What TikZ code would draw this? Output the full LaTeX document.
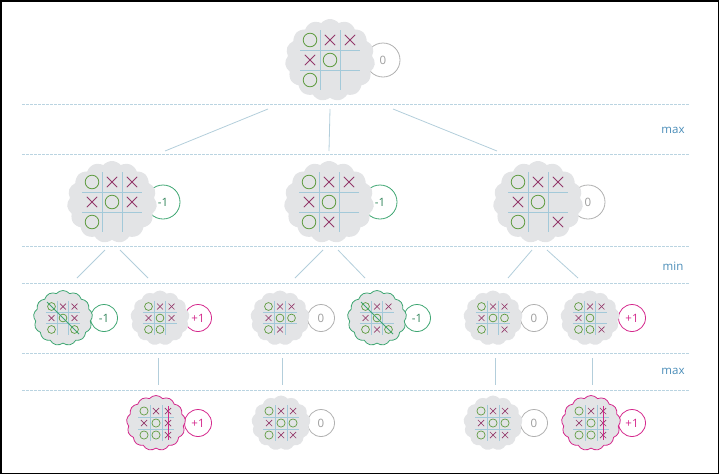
\documentclass[tikz,border=0pt]{standalone}
\usepackage{fontspec}
\setmainfont{Open Sans}
\usepackage{tikz}
\usetikzlibrary{shapes.symbols, backgrounds}
\definecolor{cloudgray}{HTML}{E3E4E6}
\definecolor{gridblue}{HTML}{A3C9D9}
\definecolor{ogreen}{HTML}{5E9B3F}
\definecolor{xplum}{HTML}{93386A}
\definecolor{wingreen}{HTML}{3EA672}
\definecolor{winpink}{HTML}{D4288C}
\definecolor{drawgray}{HTML}{B0B0B0}
\definecolor{dashblue}{HTML}{BAD4E1}
\definecolor{labelblue}{HTML}{4A8DB8}
\definecolor{linkblue}{HTML}{B3CEDB}

\tikzset{
  bigcloud/.style={cloud, cloud puffs=15, cloud puff arc=100, aspect=1,
    fill=cloudgray, minimum width=90pt, minimum height=82pt, inner sep=0pt},
  smallcloud/.style={cloud, cloud puffs=13, cloud puff arc=100, aspect=1,
    fill=cloudgray, minimum width=59pt, minimum height=55pt, inner sep=0pt},
  greencloud/.style={draw=wingreen, line width=0.8pt},
  pinkcloud/.style={draw=winpink, line width=0.8pt},
  gridline/.style={draw=gridblue, line width=0.9pt},
  opiece/.style={draw=ogreen, line width=0.8pt},
  xpiece/.style={draw=xplum, line width=0.8pt},
  smallboard/.style={gridline/.append style={line width=0.6pt},
    opiece/.append style={line width=0.7pt},
    xpiece/.append style={line width=0.7pt}},
  bigvalue/.style={circle, minimum size=34pt, inner sep=0pt, line width=0.8pt,
    font=\fontsize{11.5}{13}\selectfont},
  smallvalue/.style={circle, minimum size=27pt, inner sep=0pt, line width=0.8pt,
    font=\fontsize{11.5}{13}\selectfont},
  neutral/.style={draw=drawgray, text=drawgray!90!black},
  loss/.style={draw=wingreen, text=wingreen!80!black},
  win/.style={draw=winpink, text=winpink},
  winline/.style={line width=1pt},
  link/.style={draw=linkblue, line width=0.8pt},
  levelline/.style={draw=dashblue, line width=0.7pt, dash pattern=on 2.5pt off 1.5pt},
  levellabel/.style={text=labelblue, font=\fontsize{11.5}{13}\selectfont}
}

% board: [style] {centre} {cell size} {O cells col/row} {X cells col/row}
\newcommand{\tttboard}[5][]{%
  \begin{scope}[shift={#2}, #1]
    \foreach \k in {-0.5,0.5} {
      \draw[gridline] ({\k*#3},{-1.5*#3}) -- ({\k*#3},{1.5*#3});
      \draw[gridline] ({-1.5*#3},{\k*#3}) -- ({1.5*#3},{\k*#3});
    }
    \foreach \c/\r in {#4}
      \draw[opiece] ({(\c-2)*#3},{(\r-2)*#3}) circle[radius={0.34*#3 pt}];
    \foreach \c/\r in {#5} {
      \draw[xpiece] ({(\c-2.26)*#3},{(\r-2.26)*#3}) -- ({(\c-1.74)*#3},{(\r-1.74)*#3});
      \draw[xpiece] ({(\c-2.26)*#3},{(\r-1.74)*#3}) -- ({(\c-1.74)*#3},{(\r-2.26)*#3});
    }
  \end{scope}}

\begin{document}
\begin{tikzpicture}[x=1pt, y=-1pt]
  \useasboundingbox (0,0) rectangle (719,474);
  \draw[line width=1.5pt] (0.75,0.75) rectangle (718.25,473.25);

  % Ebenen
  \foreach \y in {104,154,246,283,353,390}
    \draw[levelline] (22,\y) -- (689,\y);
  \node[levellabel] (lmax1) at (673,130) {max};
  \node[levellabel] (lmin) at (673,266) {min};
  \node[levellabel] (lmax2) at (673,371) {max};

  % Wolken
  \node[bigcloud] (b0) at (330,60) {};
  \node[bigcloud] (b1) at (112,202) {};
  \node[bigcloud] (b2) at (329,202) {};
  \node[bigcloud] (b3) at (538,202) {};
  \node[smallcloud, greencloud] (c1) at (63,318) {};
  \node[smallcloud] (c2) at (160,318) {};
  \node[smallcloud] (c3) at (280,318) {};
  \node[smallcloud, greencloud] (c4) at (377,318) {};
  \node[smallcloud] (c5) at (493,318) {};
  \node[smallcloud] (c6) at (590,318) {};
  \node[smallcloud, pinkcloud] (d1) at (156,423) {};
  \node[smallcloud] (d2) at (281,423) {};
  \node[smallcloud] (d3) at (493,423) {};
  \node[smallcloud, pinkcloud] (d4) at (591,423) {};

  % Werte
  \begin{scope}[on background layer]
    \node[bigvalue, neutral] (v0) at ([xshift=53pt]b0.center) {0};
    \node[bigvalue, loss] (v1) at ([xshift=51pt]b1.center) {-1};
    \node[bigvalue, loss] (v2) at ([xshift=51pt]b2.center) {-1};
    \node[bigvalue, neutral] (v3) at ([xshift=50pt]b3.center) {0};
    \node[smallvalue, loss] (w1) at ([xshift=41pt]c1.center) {-1};
    \node[smallvalue, win] (w2) at ([xshift=38pt]c2.center) {+1};
    \node[smallvalue, neutral] (w3) at ([xshift=41pt]c3.center) {0};
    \node[smallvalue, loss] (w4) at ([xshift=40pt]c4.center) {-1};
    \node[smallvalue, neutral] (w5) at ([xshift=41pt]c5.center) {0};
    \node[smallvalue, win] (w6) at ([xshift=42pt]c6.center) {+1};
    \node[smallvalue, win] (u1) at ([xshift=42pt]d1.center) {+1};
    \node[smallvalue, neutral] (u2) at ([xshift=40pt]d2.center) {0};
    \node[smallvalue, neutral] (u3) at ([xshift=41pt]d3.center) {0};
    \node[smallvalue, win] (u4) at ([xshift=41pt]d4.center) {+1};
  \end{scope}

  % Spielfelder
  \tttboard{(b0)}{20}{1/1,2/2,1/3}{2/1,3/1,1/2}
  \tttboard{(b1)}{20}{1/1,2/2,1/3}{2/1,3/1,1/2,3/2}
  \tttboard{(b2)}{20}{1/1,2/2,1/3}{2/1,3/1,1/2,2/3}
  \tttboard{(b3)}{20}{1/1,2/2,1/3}{2/1,3/1,1/2,3/3}
  \tttboard[smallboard]{(c1)}{11.5}{1/1,2/2,1/3,3/3}{2/1,3/1,1/2,3/2}
  \tttboard[smallboard]{(c2)}{11.5}{1/1,2/2,1/3,2/3}{2/1,3/1,1/2,3/2}
  \tttboard[smallboard]{(c3)}{11.5}{1/1,2/2,3/2,1/3}{2/1,3/1,1/2,2/3}
  \tttboard[smallboard]{(c4)}{11.5}{1/1,2/2,1/3,3/3}{2/1,3/1,1/2,2/3}
  \tttboard[smallboard]{(c5)}{11.5}{1/1,2/2,3/2,1/3}{2/1,3/1,1/2,3/3}
  \tttboard[smallboard]{(c6)}{11.5}{1/1,2/2,1/3,2/3}{2/1,3/1,1/2,3/3}
  \tttboard[smallboard]{(d1)}{12}{1/1,2/2,1/3,2/3}{2/1,3/1,1/2,3/2,3/3}
  \tttboard[smallboard]{(d2)}{12}{1/1,2/2,3/2,1/3}{2/1,3/1,1/2,2/3,3/3}
  \tttboard[smallboard]{(d3)}{12}{1/1,2/2,3/2,1/3}{2/1,3/1,1/2,2/3,3/3}
  \tttboard[smallboard]{(d4)}{12}{1/1,2/2,1/3,2/3}{2/1,3/1,1/2,3/2,3/3}

  % Gewinnlinien
  \draw[winline, draw=wingreen] ([xshift=-16pt,yshift=16pt]c1.center) -- ([xshift=16pt,yshift=-16pt]c1.center);
  \draw[winline, draw=wingreen] ([xshift=-16pt,yshift=16pt]c4.center) -- ([xshift=16pt,yshift=-16pt]c4.center);
  \draw[winline, draw=winpink] ([xshift=12pt,yshift=17pt]d1.center) -- ([xshift=12pt,yshift=-17pt]d1.center);
  \draw[winline, draw=winpink] ([xshift=12pt,yshift=17pt]d4.center) -- ([xshift=12pt,yshift=-17pt]d4.center);

  % Verbindungen
  \draw[link] ([xshift=-62pt,yshift=-49pt]b0.center) -- ([xshift=53pt,yshift=51pt]b1.center);
  \draw[link] ([yshift=-49pt]b0.center) -- ([yshift=51pt]b2.center);
  \draw[link] ([xshift=63pt,yshift=-49pt]b0.center) -- ([xshift=-41pt,yshift=51pt]b3.center);
  \draw[link] ([xshift=-7pt,yshift=-48pt]b1.center) -- ([xshift=14pt,yshift=40pt]c1.center);
  \draw[link] ([xshift=8pt,yshift=-48pt]b1.center) -- ([xshift=-12pt,yshift=40pt]c2.center);
  \draw[link] ([xshift=-6pt,yshift=-48pt]b2.center) -- ([xshift=15pt,yshift=40pt]c3.center);
  \draw[link] ([xshift=9pt,yshift=-48pt]b2.center) -- ([xshift=-12pt,yshift=40pt]c4.center);
  \draw[link] ([xshift=-6pt,yshift=-48pt]b3.center) -- ([xshift=15pt,yshift=40pt]c5.center);
  \draw[link] ([xshift=9pt,yshift=-48pt]b3.center) -- ([xshift=-12pt,yshift=40pt]c6.center);
  \draw[link] ([xshift=-2pt,yshift=-40pt]c2.center) -- ([xshift=2pt,yshift=38pt]d1.center);
  \draw[link] ([xshift=2pt,yshift=-40pt]c3.center) -- ([xshift=1pt,yshift=38pt]d2.center);
  \draw[link] ([xshift=2pt,yshift=-40pt]c5.center) -- ([xshift=2pt,yshift=38pt]d3.center);
  \draw[link] ([xshift=2pt,yshift=-40pt]c6.center) -- ([xshift=1pt,yshift=38pt]d4.center);
\end{tikzpicture}
\end{document}
